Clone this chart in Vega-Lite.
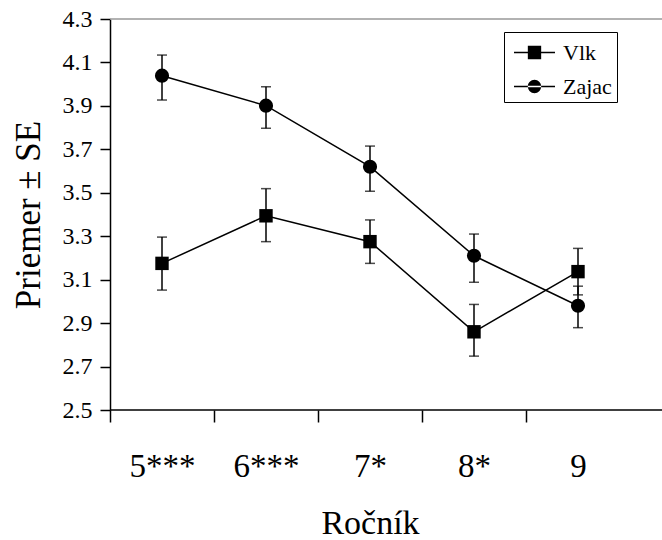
{
  "$schema": "https://vega.github.io/schema/vega-lite/v6.json",
  "autosize": "none",
  "width": 552,
  "height": 391,
  "padding": {"left": 110, "top": 19, "right": 0, "bottom": 130},
  "background": "white",
  "config": {
    "view": {"stroke": null},
    "font": "Liberation Serif",
    "axis": {"labelFont": "Liberation Serif", "titleFont": "Liberation Serif", "labelColor": "black", "titleColor": "black", "titleFontWeight": "normal", "domainColor": "black", "tickColor": "black", "grid": false},
    "legend": {"labelFont": "Liberation Serif", "titleFont": "Liberation Serif"}
  },
  "data": {
    "values": [
      {"rocnik": "5***", "series": "Vlk", "mean": 3.175, "lo": 3.052, "hi": 3.296},
      {"rocnik": "6***", "series": "Vlk", "mean": 3.394, "lo": 3.275, "hi": 3.519},
      {"rocnik": "7*", "series": "Vlk", "mean": 3.275, "lo": 3.175, "hi": 3.375},
      {"rocnik": "8*", "series": "Vlk", "mean": 2.86, "lo": 2.748, "hi": 2.986},
      {"rocnik": "9", "series": "Vlk", "mean": 3.137, "lo": 3.03, "hi": 3.244},
      {"rocnik": "5***", "series": "Zajac", "mean": 4.039, "lo": 3.927, "hi": 4.134},
      {"rocnik": "6***", "series": "Zajac", "mean": 3.901, "lo": 3.797, "hi": 3.988},
      {"rocnik": "7*", "series": "Zajac", "mean": 3.62, "lo": 3.507, "hi": 3.715},
      {"rocnik": "8*", "series": "Zajac", "mean": 3.21, "lo": 3.088, "hi": 3.31},
      {"rocnik": "9", "series": "Zajac", "mean": 2.98, "lo": 2.879, "hi": 3.07}
    ]
  },
  "encoding": {
    "x": {
      "field": "rocnik", "type": "nominal", "sort": null,
      "scale": {"type": "band", "range": [0, 520], "paddingInner": 0, "paddingOuter": 0},
      "axis": {"title": "Ročník", "labelAngle": 0, "labelFontSize": 33, "titleFontSize": 34, "tickSize": 12, "tickWidth": 1.5, "domain": false, "tickOffset": -52, "labelOffset": 52, "labelPadding": 28, "titlePadding": 23}
    }
  },
  "layer": [
    {
      "data": {"values": [{}]},
      "mark": {"type": "rule", "color": "#999999", "strokeWidth": 1.5},
      "encoding": {"x": null, "y": {"datum": 4.3, "type": "quantitative"}}
    },
    {
      "data": {"values": [{}]},
      "mark": {"type": "rule", "color": "black", "strokeWidth": 1.5},
      "encoding": {"x": null, "y": {"datum": 2.5, "type": "quantitative"}}
    },
    {
      "mark": {"type": "errorbar", "color": "black", "thickness": 1.5, "ticks": {"size": 10, "thickness": 1.5, "color": "black"}},
      "encoding": {
        "y": {"field": "lo", "type": "quantitative",
          "scale": {"domain": [2.5, 4.3], "nice": false, "zero": false},
          "axis": {"title": "Priemer ± SE", "values": [2.5, 2.7, 2.9, 3.1, 3.3, 3.5, 3.7, 3.9, 4.1, 4.3], "format": ".1f", "labelFontSize": 24, "titleFontSize": 35, "tickSize": 10, "tickWidth": 1.5, "domainWidth": 1.5, "labelPadding": 8, "titlePadding": 16}},
        "y2": {"field": "hi"}
      }
    },
    {
      "mark": {"type": "line", "color": "black", "strokeWidth": 1.5},
      "encoding": {"y": {"field": "mean", "type": "quantitative"}, "detail": {"field": "series"}}
    },
    {
      "transform": [{"filter": "datum.series === 'Vlk'"}],
      "mark": {"type": "point", "shape": "square", "filled": true, "color": "black", "opacity": 1, "size": 180},
      "encoding": {"y": {"field": "mean", "type": "quantitative"}}
    },
    {
      "transform": [{"filter": "datum.series === 'Zajac'"}],
      "mark": {"type": "point", "shape": "circle", "filled": true, "color": "black", "opacity": 1, "size": 200},
      "encoding": {"y": {"field": "mean", "type": "quantitative"}}
    },
    {
      "mark": {"type": "point", "filled": true, "color": "black", "opacity": 0, "size": 900},
      "encoding": {
        "y": {"field": "mean", "type": "quantitative"},
        "shape": {
          "field": "series", "type": "nominal",
          "scale": {"domain": ["Vlk", "Zajac"], "range": [
            "M-0.7,-0.05H2.033V0.05H-0.7ZM0.222,-0.444H1.111V0.444H0.222Z",
            "M-0.7,-0.05H2.033V0.05H-0.7ZM0.223,0A0.444,0.444 0 1,0 1.111,0A0.444,0.444 0 1,0 0.223,0Z"
          ]},
          "legend": {
            "title": null, "orient": "none", "legendX": 394, "legendY": 13,
            "labelFontSize": 22, "labelColor": "black", "labelOffset": 22.5,
            "symbolSize": 900, "symbolOpacity": 1, "symbolFillColor": "black", "symbolStrokeColor": "black",
            "strokeColor": "black", "padding": 4.5, "rowPadding": 7, "fillColor": "white"
          }
        }
      }
    }
  ]
}
